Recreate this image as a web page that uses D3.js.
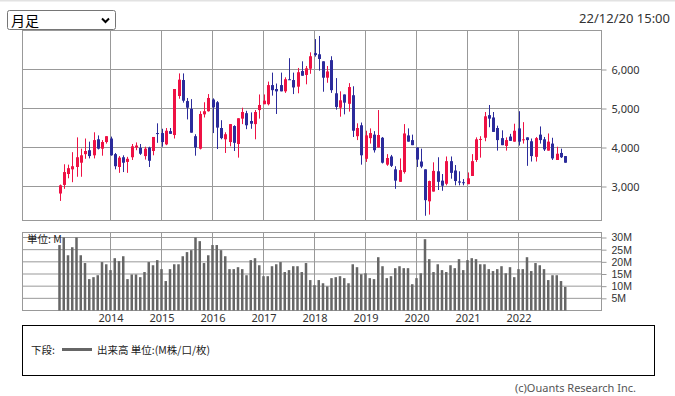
<!DOCTYPE html>
<html>
<head>
<meta charset="utf-8">
<script src="https://cdn.jsdelivr.net/npm/d3@7"></script>
<style>
  body { margin: 0; background: #fff; }
  text { font-family: "Noto Sans", "Noto Sans CJK JP", sans-serif; }
  .jp { font-family: "Noto Sans CJK JP", sans-serif; }
</style>
</head>
<body>
<div id="chart"></div>
<script>
// Monthly candles, Jan 2013 .. Dec 2022
const startYear = 2013;
const open = [
  2820, 3040, 3320, 3440, 3500, 3610, 3830, 3930, 3800, 4210, 3970, 4140,
  4230, 3830, 3500, 3750, 3630, 3750, 4000, 3990, 3780, 4000, 3910, 4370,
  4370, 4080, 4420, 4320, 5320, 5730, 5190, 4990, 4290, 3970, 4850, 4930,
  5230, 5160, 4500, 4210, 4140, 4550, 4090, 4740, 4880, 4680, 4600, 4960,
  5110, 5110, 5600, 5500, 5600, 5440, 5750, 5730, 5560, 5960, 5860, 6020,
  6420, 6390, 6210, 5790, 6240, 5390, 5020, 5360, 5120, 5340, 4290, 4570,
  3710, 4240, 4330, 4000, 4250, 3560, 3770, 3440, 3120, 3370, 4310, 4190,
  4000, 3640, 3440, 2620, 2870, 3390, 3150, 3070, 3650, 3410, 3130, 3110,
  3060, 3270, 3680, 4200, 4250, 4830, 4770, 4500, 4240, 4040, 4280, 4150,
  4490, 4190, 4260, 4160, 3760, 4330, 4210, 3920, 4100, 3680, 3860, 3780
];
const high = [
  3050, 3570, 3560, 3880, 4260, 3970, 4230, 4150, 4390, 4310, 4190, 4290,
  4280, 3860, 3780, 3800, 3760, 4090, 4130, 4090, 4020, 4020, 4270, 4620,
  4480, 4500, 4500, 5500, 5900, 5900, 5270, 5240, 4340, 4930, 5160, 5370,
  5260, 5190, 4700, 4390, 4600, 4570, 4750, 5020, 4940, 4900, 4960, 5360,
  5360, 5690, 5920, 5640, 5920, 5800, 6290, 5920, 6040, 6210, 6090, 6440,
  6780, 6860, 6210, 6090, 6340, 5780, 5440, 5360, 5650, 5570, 4620, 4640,
  4430, 4490, 4420, 4960, 4270, 3830, 3810, 3520, 3720, 4600, 4490, 4330,
  4000, 3970, 3440, 3150, 3620, 3750, 3320, 3770, 3770, 3550, 3390, 3190,
  3360, 3830, 4260, 4290, 4910, 5090, 4910, 4560, 4440, 4260, 4350, 4610,
  4930, 4650, 4260, 4230, 4270, 4540, 4270, 4360, 4250, 4020, 3970, 3780
];
const low = [
  2630, 2940, 3210, 3110, 3250, 3250, 3710, 3720, 3720, 3950, 3790, 4100,
  3790, 3440, 3350, 3370, 3350, 3680, 3930, 3810, 3690, 3500, 3800, 4120,
  4020, 4060, 4350, 4230, 5250, 5150, 4720, 4380, 3790, 3950, 4770, 4920,
  4370, 3960, 4210, 3860, 4030, 3910, 3740, 4600, 4470, 4480, 4210, 4740,
  5110, 5080, 5330, 4860, 5440, 5400, 5730, 5370, 5390, 5840, 5620, 5890,
  6330, 5970, 5430, 5660, 5400, 4970, 4790, 4850, 4920, 4270, 4190, 3560,
  3630, 4100, 3870, 4000, 3590, 3530, 3500, 2940, 3120, 3330, 4150, 4060,
  3500, 3470, 2250, 2280, 2870, 2910, 2890, 3030, 3200, 3030, 3030, 3030,
  3060, 3270, 3630, 3740, 4160, 4520, 4400, 3920, 4060, 3920, 4170, 4150,
  4050, 4100, 3530, 3640, 3640, 4100, 3910, 3920, 3680, 3680, 3730, 3610
];
const close = [
  3030, 3370, 3470, 3520, 3750, 3800, 3910, 3780, 4190, 3970, 4140, 4290,
  3800, 3520, 3740, 3610, 3710, 4030, 4050, 3840, 3970, 3660, 4270, 4350,
  4140, 4430, 4350, 5500, 5740, 5200, 5020, 4380, 4000, 4860, 4930, 5270,
  5030, 4510, 4240, 4340, 4600, 4120, 4750, 4910, 4570, 4610, 4910, 5090,
  5200, 5600, 5470, 5440, 5440, 5750, 5730, 5540, 5930, 5840, 6030, 6340,
  6370, 6270, 5790, 5950, 5470, 5040, 5210, 5150, 5550, 4430, 4500, 3800,
  4310, 4370, 3930, 4320, 3610, 3730, 3530, 3150, 3420, 4360, 4150, 4060,
  3690, 3510, 2650, 3140, 3400, 3120, 3020, 3650, 3350, 3140, 3100, 3100,
  3210, 3650, 4210, 4220, 4800, 4740, 4400, 4190, 4060, 4190, 4170, 4430,
  4150, 4210, 4190, 3780, 4240, 4190, 3950, 4150, 3720, 3840, 3750, 3610
];
// Volume, millions
const volume = [
  26.9, 30.0, 22.7, 26.0, 30.0, 22.7, 19.5, 12.9, 13.7, 14.5, 19.9, 19.0,
  16.6, 21.5, 20.3, 22.3, 12.9, 14.8, 14.8, 13.7, 15.8, 19.9, 18.6, 20.7,
  17.0, 12.1, 17.0, 19.0, 19.0, 22.3, 24.0, 24.8, 30.0, 28.5, 19.5, 22.7,
  26.9, 26.9, 24.8, 22.3, 17.0, 17.0, 17.8, 17.0, 14.5, 20.7, 21.5, 18.6,
  14.1, 14.1, 18.2, 19.0, 19.9, 15.8, 16.6, 18.2, 18.2, 15.8, 19.5, 12.5,
  10.4, 12.5, 11.2, 9.9, 13.3, 13.7, 14.1, 13.3, 11.2, 19.0, 17.8, 14.9,
  15.3, 13.3, 12.9, 21.9, 18.2, 13.3, 14.1, 17.4, 18.2, 17.4, 17.4, 10.8,
  13.3, 15.3, 29.3, 21.1, 15.8, 19.0, 16.6, 15.8, 18.6, 17.4, 21.1, 16.6,
  20.7, 21.5, 21.1, 19.0, 19.0, 17.0, 16.2, 17.0, 18.2, 15.3, 17.8, 13.7,
  17.0, 17.0, 21.9, 16.2, 19.5, 18.6, 17.0, 12.5, 14.5, 14.5, 12.1, 9.7
];
const years = [2014, 2015, 2016, 2017, 2018, 2019, 2020, 2021, 2022];
const priceTicks = [3000, 4000, 5000, 6000];
const volumeTicks = [5, 10, 15, 20, 25, 30];

const data = open.map((o, i) => ({
  i, open: o, high: high[i], low: low[i], close: close[i], volume: volume[i]
}));

const W = 675, H = 396;
const left = 22.5, right = 601.5;
const priceTop = 30.5, priceBottom = 220.5;
const volTop = 232.5, volBottom = 310.5;
const red = "#ee1144", blue = "#2b2b9b", grid = "#999";

// month index -> x
const x = d3.scaleLinear().domain([0, 12]).range([59.5, 110.5]);
const y = d3.scaleLinear().domain([3000, 7000]).range([186.5, 30.5]);
const vy = d3.scaleLinear().domain([0, 30]).range([volBottom, 237.5]);
const yearIdx = yr => (yr - startYear) * 12;

const svg = d3.select("#chart").append("svg")
  .attr("width", W).attr("height", H)
  .style("display", "block");

svg.append("rect").attr("width", W).attr("height", H).attr("fill", "#fff");
svg.append("rect").attr("width", W).attr("height", 1.5).attr("fill", "#e2e2e2");

// select box
svg.append("rect")
  .attr("x", 7.5).attr("y", 10.5).attr("width", 108).attr("height", 19)
  .attr("rx", 2).attr("fill", "#fff").attr("stroke", "#767676");
svg.append("text").attr("class", "jp")
  .attr("x", 11).attr("y", 25.5).attr("font-size", 14).attr("fill", "#000")
  .text("月足");
svg.append("path")
  .attr("d", "M102,18.5 L105.5,22 L109,18.5")
  .attr("fill", "none").attr("stroke", "#000").attr("stroke-width", 2);

// timestamp
svg.append("text")
  .attr("x", 670).attr("y", 22.5).attr("text-anchor", "end")
  .attr("font-size", 13).attr("fill", "#333")
  .text("22/12/20 15:00");

// ---- price panel ----
const price = svg.append("g");

price.selectAll(".hgrid").data(priceTicks).join("line")
  .attr("x1", left).attr("x2", right)
  .attr("y1", d => y(d)).attr("y2", d => y(d))
  .attr("stroke", grid);

price.selectAll(".vgrid").data(years).join("line")
  .attr("x1", d => x(yearIdx(d))).attr("x2", d => x(yearIdx(d)))
  .attr("y1", priceTop).attr("y2", priceBottom)
  .attr("stroke", grid);

price.append("rect")
  .attr("x", left).attr("y", priceTop)
  .attr("width", right - left).attr("height", priceBottom - priceTop)
  .attr("fill", "none").attr("stroke", grid);

const col = d => d.close >= d.open ? red : blue;
const cx = d => Math.round(x(d.i));

price.selectAll(".wick").data(data).join("line")
  .attr("x1", d => cx(d) + 0.5).attr("x2", d => cx(d) + 0.5)
  .attr("y1", d => y(d.high)).attr("y2", d => y(d.low))
  .attr("stroke", col).attr("stroke-width", 1);

price.selectAll(".body").data(data).join("rect")
  .attr("x", d => cx(d) - 1)
  .attr("width", 3)
  .attr("y", d => y(Math.max(d.open, d.close)))
  .attr("height", d => Math.max(1, Math.abs(y(d.open) - y(d.close))))
  .attr("fill", col);

const pAxis = svg.append("g")
  .attr("transform", `translate(${right},0)`)
  .call(d3.axisRight(y).tickValues(priceTicks)
    .tickFormat(d3.format(",")).tickSize(5).tickPadding(5));
pAxis.select(".domain").remove();
pAxis.selectAll("line").attr("stroke", grid);
pAxis.selectAll("text").attr("font-size", 11).attr("fill", "#333")
  .style("font-family", "'Noto Sans', sans-serif");

// ---- volume panel ----
const vol = svg.append("g");

vol.selectAll(".hgrid").data(volumeTicks).join("line")
  .attr("x1", left).attr("x2", right)
  .attr("y1", d => vy(d)).attr("y2", d => vy(d))
  .attr("stroke", grid);

vol.selectAll(".vgrid").data(years).join("line")
  .attr("x1", d => x(yearIdx(d))).attr("x2", d => x(yearIdx(d)))
  .attr("y1", volTop).attr("y2", volBottom)
  .attr("stroke", grid);

vol.append("rect")
  .attr("x", left).attr("y", volTop)
  .attr("width", right - left).attr("height", volBottom - volTop)
  .attr("fill", "none").attr("stroke", grid);

vol.selectAll(".bar").data(data).join("rect")
  .attr("x", d => x(d.i) - 1.25)
  .attr("width", 2.5)
  .attr("y", d => vy(d.volume))
  .attr("height", d => vy(0) - vy(d.volume))
  .attr("fill", "#666");

vol.append("text").attr("class", "jp")
  .attr("x", 27).attr("y", 243).attr("font-size", 10.5).attr("fill", "#222")
  .text("単位: M");

const vAxis = svg.append("g")
  .attr("transform", `translate(${right},0)`)
  .call(d3.axisRight(vy).tickValues(volumeTicks)
    .tickFormat(d => d + "M").tickSize(5).tickPadding(5));
vAxis.select(".domain").remove();
vAxis.selectAll("line").attr("stroke", grid);
vAxis.selectAll("text").attr("font-size", 10.5).attr("fill", "#333")
  .style("font-family", "'Liberation Sans', sans-serif");

const xAxis = svg.append("g")
  .attr("transform", `translate(0,${volBottom})`)
  .call(d3.axisBottom(x).tickValues(years.map(yearIdx))
    .tickFormat(d => startYear + d / 12).tickSize(0).tickPadding(4));
xAxis.select(".domain").remove();
xAxis.selectAll("text").attr("font-size", 11).attr("fill", "#333")
  .style("font-family", "'Noto Sans', sans-serif");

// ---- legend ----
svg.append("rect")
  .attr("x", 22.5).attr("y", 325.5).attr("width", 632).attr("height", 50)
  .attr("fill", "#fff").attr("stroke", "#000");
svg.append("text").attr("class", "jp")
  .attr("x", 31).attr("y", 354).attr("font-size", 10.5).attr("fill", "#222")
  .text("下段:");
svg.append("line")
  .attr("x1", 62).attr("x2", 92).attr("y1", 349.5).attr("y2", 349.5)
  .attr("stroke", "#666").attr("stroke-width", 3);
svg.append("text").attr("class", "jp")
  .attr("x", 97).attr("y", 354).attr("font-size", 10.5).attr("fill", "#222")
  .text("出来高 単位:(M株/口/枚)");

svg.append("text")
  .attr("x", 636).attr("y", 392).attr("text-anchor", "end")
  .attr("font-size", 11).attr("fill", "#555")
  .text("(c)Ouants Research Inc.");
</script>
</body>
</html>
